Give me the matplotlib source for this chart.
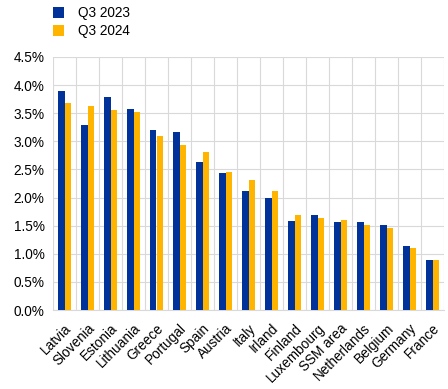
import matplotlib.pyplot as plt
from matplotlib.ticker import FuncFormatter, MultipleLocator
import numpy as np

plt.rcParams['font.family'] = ['Liberation Sans', 'DejaVu Sans']

countries = ['Latvia', 'Slovenia', 'Estonia', 'Lithuania', 'Greece', 'Portugal', 'Spain',
             'Austria', 'Italy', 'Irland', 'Finland', 'Luxembourg', 'SSM area',
             'Netherlands', 'Belgium', 'Germany', 'France']
q3_2023 = [3.90, 3.29, 3.78, 3.58, 3.20, 3.16, 2.63, 2.43, 2.11, 1.99, 1.59, 1.69, 1.57,
           1.57, 1.51, 1.13, 0.89]
q3_2024 = [3.69, 3.62, 3.56, 3.53, 3.10, 2.94, 2.81, 2.45, 2.31, 2.11, 1.69, 1.63, 1.60,
           1.51, 1.45, 1.10, 0.89]

fig = plt.figure(figsize=(4.48, 3.89), dpi=100)
ax = fig.add_axes([53 / 448, 1 - 310 / 389, 391 / 448, 253 / 389])

x = np.arange(len(countries))
w = 0.29
ax.bar(x - w / 2, q3_2023, width=w, color='#003299', label='Q3 2023', zorder=3)
ax.bar(x + w / 2, q3_2024, width=w, color='#FFB400', label='Q3 2024', zorder=3)

ax.set_xlim(-0.5, len(countries) - 0.5)
ax.set_ylim(0, 4.5)
ax.yaxis.set_major_locator(MultipleLocator(0.5))
ax.yaxis.set_major_formatter(FuncFormatter(lambda v, p: f'{v:.1f}%'))

ax.set_xticks(x)
ax.set_xticklabels(countries, rotation=45, ha='right', rotation_mode='anchor', fontsize=9.8)
ax.set_xticks(np.arange(len(countries) + 1) - 0.5, minor=True)
ax.tick_params(axis='x', which='both', length=0, pad=8)
ax.tick_params(axis='y', length=0, labelsize=9.8, pad=6)

ax.grid(axis='y', color='#d9d9d9', linewidth=0.8, zorder=0)
ax.grid(axis='x', which='minor', color='#d9d9d9', linewidth=0.8, zorder=0)
for s in ['top', 'right', 'left']:
    ax.spines[s].set_visible(False)
ax.spines['bottom'].set_color('#d9d9d9')

fig.legend(loc='upper left', bbox_to_anchor=(45 / 448, 1.005), frameon=False, fontsize=9.8,
           handlelength=0.8, handleheight=0.8, handletextpad=1.0, labelspacing=0.3,
           borderaxespad=0.2)

fig.savefig('out.png', dpi=100)
